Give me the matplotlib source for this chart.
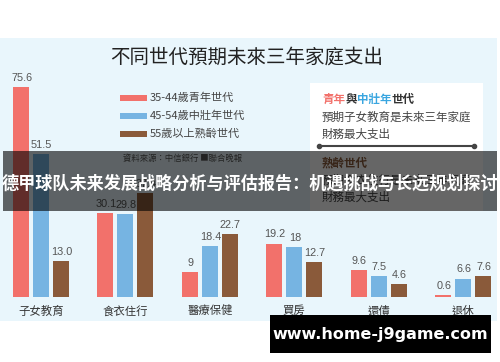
import matplotlib
matplotlib.use("Agg")
import matplotlib.pyplot as plt
from matplotlib.patches import Rectangle
import numpy as np

# --- data ---
categories = ["子女教育", "食衣住行", "醫療保健", "買房", "還債", "退休"]
series_names = ["35-44歲青年世代", "45-54歲中壯年世代", "55歲以上熟齡世代"]
young = [75.6, 30.1, 9, 19.2, 9.6, 0.6]
middle = [51.5, 29.8, 18.4, 18, 7.5, 6.6]
senior = [13.0, 37.4, 22.7, 12.7, 4.6, 7.6]
young_labels = ["75.6", "30.1", "9", "19.2", "9.6", "0.6"]
middle_labels = ["51.5", "29.8", "18.4", "18", "7.5", "6.6"]
senior_labels = ["13.0", "37.4", "22.7", "12.7", "4.6", "7.6"]

title = "不同世代預期未來三年家庭支出"
source = "資料來源：中信銀行 ■聯合晚報"
banner = "德甲球队未来发展战略分析与评估报告：机遇挑战与长远规划探讨"
watermark = "www.home-j9game.com"

RED = "#F2716B"
BLUE = "#76B4E2"
BROWN = "#8A5A3A"
PANEL = "#E9F6FC"
TC = ["Noto Sans CJK TC", "DejaVu Sans"]
SC = ["Noto Sans CJK SC", "DejaVu Sans"]

W, H = 500, 362
fig = plt.figure(figsize=(W / 100, H / 100), dpi=100)

# background axes in pixel coordinates (y down)
bg = fig.add_axes([0, 0, 1, 1], zorder=0)
bg.set_xlim(0, W)
bg.set_ylim(H, 0)
bg.axis("off")
bg.add_patch(Rectangle((0, 38), 497, 283, color=PANEL, lw=0))
bg.text(247, 57, title, fontsize=14, family=TC, color="#222222",
        ha="center", va="center")

# legend
for i, (name, col) in enumerate(zip(series_names, [RED, BLUE, BROWN])):
    y = 98 + i * 18
    bg.add_patch(Rectangle((120, y - 3), 27, 6, color=col, lw=0))
    bg.text(150, y, name, fontsize=8, family=TC, color="#444444",
            ha="left", va="center")
bg.text(123, 158, source, fontsize=6, family=TC, color="#555555",
        ha="left", va="center")

# note box
bg.add_patch(Rectangle((310, 83), 173, 128, color="white", lw=0))
em = 8.3 * 100 / 72
x0 = 322
for piece, col in [("青年", RED), ("與", "#333333"), ("中壯年", "#3AA6E0"), ("世代", "#333333")]:
    bg.text(x0, 99, piece, fontsize=8.3, family=TC, color=col,
            fontweight="bold", ha="left", va="center")
    x0 += em * len(piece)
bg.text(322, 117, "預期子女教育是未來三年家庭", fontsize=8.3, family=TC,
        color="#444444", ha="left", va="center")
bg.text(322, 134, "財務最大支出", fontsize=8.3, family=TC,
        color="#444444", ha="left", va="center")
bg.plot([319, 474], [146, 146], color="#444444", lw=1.5, marker="o", ms=3)
bg.text(322, 163, "熟齡世代", fontsize=8.3, family=TC, color=BROWN,
        fontweight="bold", ha="left", va="center")
bg.text(322, 180, "預期食衣住行是未來三年家庭", fontsize=8.3, family=TC,
        color="#444444", ha="left", va="center")
bg.text(322, 197, "財務最大支出", fontsize=8.3, family=TC,
        color="#444444", ha="left", va="center")

# bar axes: baseline at y=297 px, 2.78 px per unit, groups 84.4 px apart
base_px, top_px = 297, 38
ax = fig.add_axes([0, (H - base_px) / H, 1, (base_px - top_px) / H], zorder=1)
ax.patch.set_alpha(0)
ax.set_xlim(-41 / 84.4, (W - 41) / 84.4)
ax.set_ylim(0, (base_px - top_px) / 2.78)
ax.axis("off")

x = np.arange(len(categories))
step = 20 / 84.4
width = 16 / 84.4
for k, (vals, labs, col) in enumerate(zip([young, middle, senior],
                                           [young_labels, middle_labels, senior_labels],
                                           [RED, BLUE, BROWN])):
    xs = x + (k - 1) * step
    ax.bar(xs, vals, width=width, color=col, lw=0)
    for xi, v, lab in zip(xs, vals, labs):
        ax.annotate(lab, (xi, v), xytext=(0.5, 3), textcoords="offset points",
                    ha="center", va="bottom", fontsize=7.8,
                    family=["Liberation Sans", "DejaVu Sans"], color="#555555")
for xi, cat in zip(x, categories):
    ax.annotate(cat, (xi, 0), xytext=(0, -10), textcoords="offset points",
                ha="center", va="center", fontsize=8.2, family=TC, color="#333333")

# overlay banner and watermark
top = fig.add_axes([0, 0, 1, 1], zorder=3)
top.set_xlim(0, W)
top.set_ylim(H, 0)
top.axis("off")
top.patch.set_alpha(0)
top.add_patch(Rectangle((3, 151), 494, 60, color="black", alpha=0.6, lw=0))
top.text(250, 184, banner, fontsize=12.3, family=SC, color="white",
         fontweight="bold", ha="center", va="center")
top.add_patch(Rectangle((270, 315), 221, 38, color="black", lw=0))
top.text(380, 334, watermark, fontsize=11.5, color="white",
         fontweight="bold", ha="center", va="center")

fig.savefig("out.png", dpi=100)
